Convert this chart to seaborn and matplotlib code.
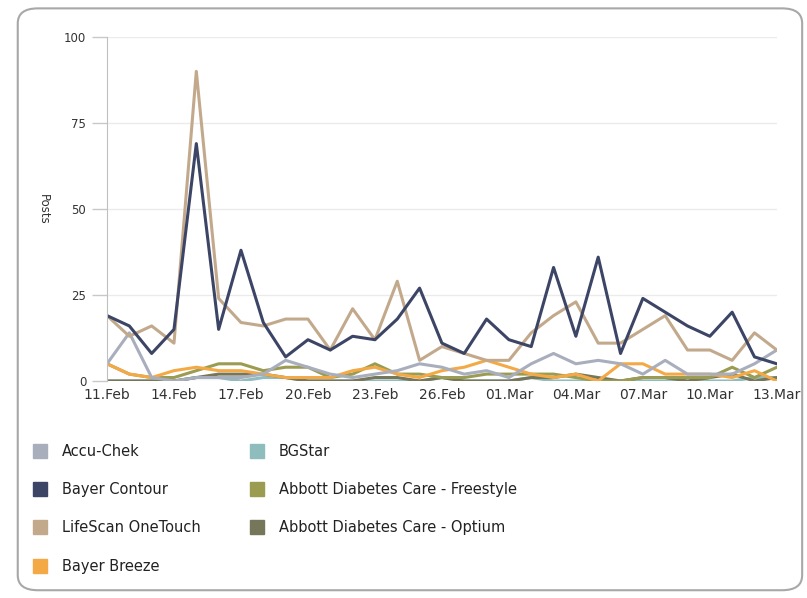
import matplotlib
matplotlib.use('Agg')

import pandas as pd
import seaborn as sns
import matplotlib.pyplot as plt
import matplotlib.dates as mdates
from matplotlib.lines import Line2D
from matplotlib.patches import FancyBboxPatch

dates = pd.date_range('2013-02-11', '2013-03-13', freq='D')

accu_chek = [5, 14, 1, 0, 1, 1, 1, 2, 6, 4, 2, 1, 2, 3, 5, 4, 2, 3, 1, 5, 8, 5, 6, 5, 2, 6, 2, 2, 2, 5, 9]
bayer_contour = [19, 16, 8, 15, 69, 15, 38, 17, 7, 12, 9, 13, 12, 18, 27, 11, 8, 18, 12, 10, 33, 13, 36, 8, 24, 20, 16, 13, 20, 7, 5]
lifescan = [19, 13, 16, 11, 90, 24, 17, 16, 18, 18, 9, 21, 12, 29, 6, 10, 8, 6, 6, 14, 19, 23, 11, 11, 15, 19, 9, 9, 6, 14, 9]
bayer_breeze = [5, 2, 1, 3, 4, 3, 3, 2, 1, 1, 1, 3, 4, 2, 1, 3, 4, 6, 4, 2, 1, 2, 0, 5, 5, 2, 2, 2, 1, 3, 0]
bgstar = [0, 0, 0, 0, 1, 1, 0, 1, 1, 0, 0, 0, 0, 0, 0, 1, 0, 0, 0, 1, 0, 0, 0, 0, 0, 0, 1, 0, 0, 1, 1]
freestyle = [5, 2, 1, 1, 3, 5, 5, 3, 4, 4, 1, 2, 5, 2, 2, 1, 1, 2, 2, 2, 2, 1, 0, 0, 1, 1, 1, 1, 4, 1, 4]
optium = [0, 0, 0, 0, 1, 2, 2, 2, 1, 0, 0, 0, 1, 1, 0, 1, 0, 0, 0, 1, 1, 2, 1, 0, 1, 1, 0, 1, 2, 0, 1]

series = {
    'Accu-Chek': accu_chek,
    'Bayer Contour': bayer_contour,
    'LifeScan OneTouch': lifescan,
    'Bayer Breeze': bayer_breeze,
    'BGStar': bgstar,
    'Abbott Diabetes Care - Freestyle': freestyle,
    'Abbott Diabetes Care - Optium': optium,
}
colors = {
    'Accu-Chek': '#a9aebd',
    'Bayer Contour': '#3c4566',
    'LifeScan OneTouch': '#c3a98c',
    'Bayer Breeze': '#f4a947',
    'BGStar': '#8fbdbd',
    'Abbott Diabetes Care - Freestyle': '#9b9c52',
    'Abbott Diabetes Care - Optium': '#76765a',
}
order = list(series.keys())

df = pd.concat([pd.DataFrame({'date': dates, 'posts': v, 'brand': k})
                for k, v in series.items()], ignore_index=True)

sns.set_style('white')
fig = plt.figure(figsize=(8.07, 5.98), dpi=100)
ax = fig.add_axes([0.1326, 0.3629, 0.830, 0.5753])

# small series first so the big ones sit on top
draw_order = ['BGStar', 'Abbott Diabetes Care - Optium', 'Abbott Diabetes Care - Freestyle',
              'Bayer Breeze', 'Accu-Chek', 'LifeScan OneTouch', 'Bayer Contour']
for b in draw_order:
    sns.lineplot(data=df[df.brand == b], x='date', y='posts', color=colors[b],
                 lw=2.2, ax=ax, legend=False)

ax.set_ylim(0, 100)
ax.set_yticks([0, 25, 50, 75, 100])
ax.set_xlim(dates[0], dates[-1])
ax.set_xticks(dates[::3])
ax.xaxis.set_major_formatter(mdates.DateFormatter('%d.%b'))
ax.grid(axis='y', color='#ebebeb', lw=1)
for s in ['top', 'right', 'bottom']:
    ax.spines[s].set_visible(False)
ax.spines['left'].set_color('#c0c0c0')
ax.tick_params(axis='y', length=11, width=1, color='#c8c8c8', labelsize=8.5,
               labelcolor='#333333', pad=4, left=True)
ax.tick_params(axis='x', length=0, labelsize=10, labelcolor='#333333', pad=5)
ax.set_xlabel('')
ax.set_ylabel('Posts', rotation=270, fontsize=8.5, color='#333333')
ax.yaxis.set_label_coords(-0.105, 0.5)

handles = [Line2D([], [], marker='s', ls='none', markersize=10,
                  markerfacecolor=colors[b], markeredgecolor=colors[b]) for b in order]
fig.legend(handles, order, loc='upper left', bbox_to_anchor=(0.022, 0.28),
           ncol=2, frameon=False, fontsize=10.5, labelspacing=1.6,
           handletextpad=0.9, columnspacing=3.3, handlelength=1.2,
           labelcolor='#222222')

frame = FancyBboxPatch((0.022, 0.013), 0.972, 0.973, transform=fig.transFigure,
                       boxstyle='round,pad=0,rounding_size=0.025',
                       fc='none', ec='#a8a8a8', lw=1.5)
fig.patches.append(frame)

plt.savefig('out.png', dpi=100)
